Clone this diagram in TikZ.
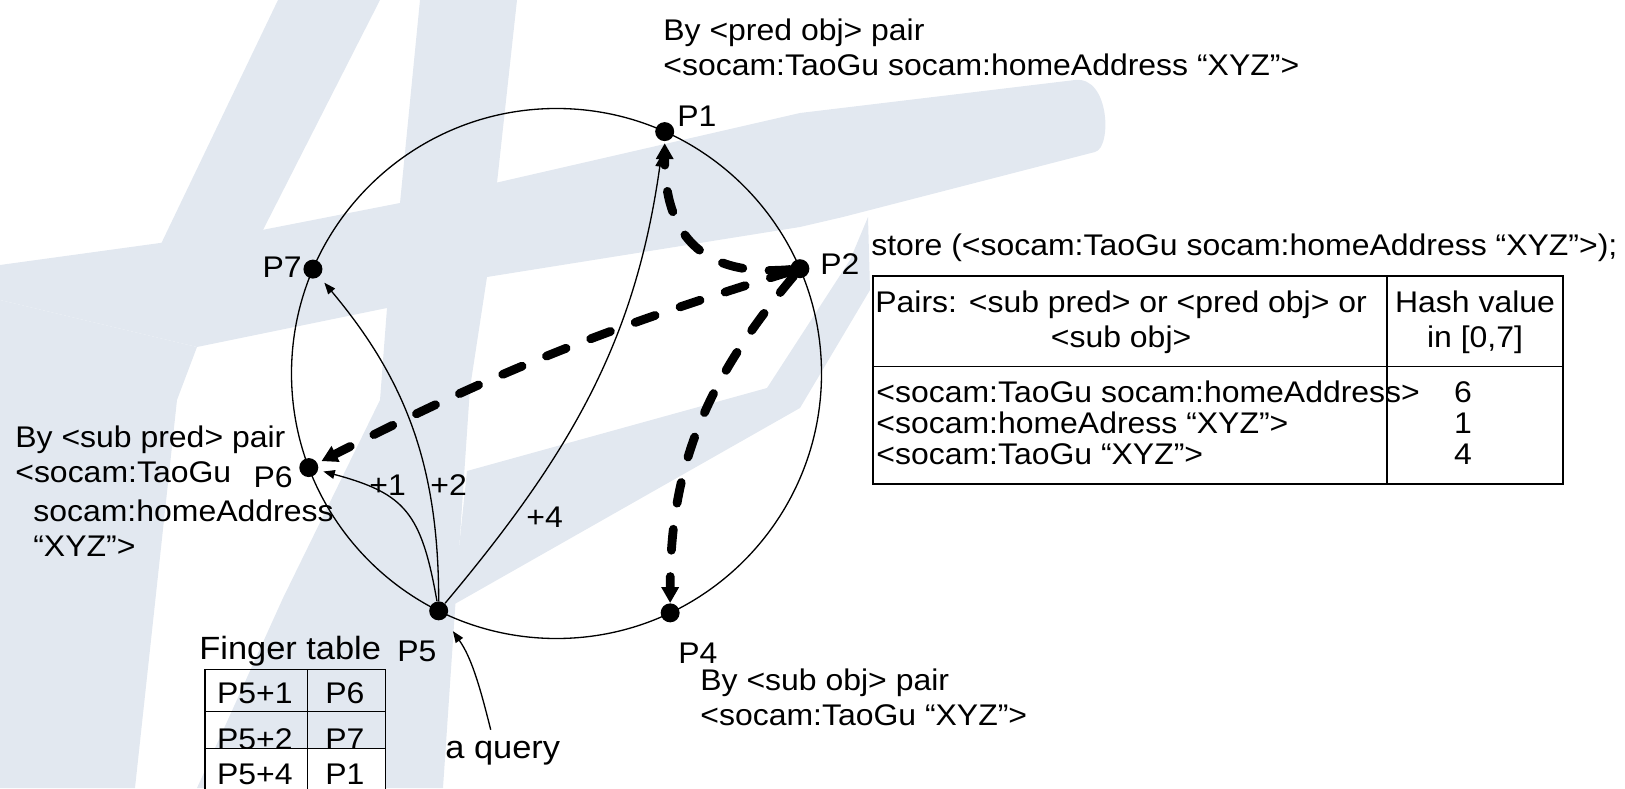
\documentclass[tikz,border=0pt]{standalone}
\usepackage{fontspec}
\setmainfont{Liberation Sans}[FakeStretch=1.07]
\usetikzlibrary{arrows.meta}

\definecolor{wmark}{RGB}{226,232,240}

\tikzset{
  dot/.style={circle, fill=black, inner sep=0pt, minimum size=0.38cm},
  txt/.style={inner sep=0pt, font=\fontsize{17}{19.85}\selectfont},
  bigtxt/.style={inner sep=0pt, font=\fontsize{18.3}{21}\selectfont},
  finger/.style={line width=0.75pt, -{Triangle[length=6.5pt, width=5pt]}},
  hop/.style={line width=5pt, line cap=round, dash pattern=on 12pt off 15pt,
    -{Triangle[length=9pt, width=9.5pt]}},
  rule/.style={line width=0.75pt},
}

\begin{document}
\begin{tikzpicture}[x=0.02cm, y=0.02cm]
  \useasboundingbox (0,0) rectangle (1625,788);

  % background logo
  \fill[wmark] (278,788) -- (380,788) -- (262,556) -- (160,542) -- cycle;
  \fill[wmark] (0,523) -- (160,545) -- (262,558) -- (400,585) -- (495,605) -- (800,675) -- (1075,708)
    .. controls (1110,712) and (1112,640) .. (1095,636) -- (843,571) -- (800,561) -- (487,511)
    -- (387,480) -- (197,441) -- (0,488) -- cycle;
  \fill[wmark] (0,488) -- (197,441) -- (177,388) -- (135,0) -- (0,0) -- cycle;
  \fill[wmark] (420,788) -- (517,788) -- (497,605) -- (487,511) -- (470,400) -- (443,0) -- (197,0)
    -- (283,190) -- (380,388) -- (387,480) -- (400,585) -- cycle;
  \fill[wmark] (453,183) -- (467,317) -- (767,400) -- (850,528) -- (868,571) -- (870,498) -- (800,380) -- cycle;

  % the ring
  \coordinate (c) at (556.5,414.5);
  \draw[rule] (c) circle (265);
  \foreach \n/\a in {1/65.9, 2/23.3, 4/295.4, 5/243.6, 6/200.8, 7/156.8}
    \node[dot] (p\n) at ([shift={(\a:265)}]c) {};

  \node[txt, anchor=base west] (l1) at (677,661) {P1};
  \node[txt, anchor=base west] (l2) at (820,513) {P2};
  \node[txt, anchor=base west] (l4) at (678,125) {P4};
  \node[txt, anchor=base west] (l5) at (397,127) {P5};
  \node[txt, anchor=base east] (l6) at (293,300) {P6};
  \node[txt, anchor=base east] (l7) at (302,510) {P7};

  % fingers of P5
  \draw[finger, shorten >=3pt] (p5) to[out=100, in=-15, looseness=1.3] (p6);
  \draw[finger, shorten >=4.5pt] (p5) to[out=90, in=-50] (p7);
  \draw[finger, shorten >=8pt] (p5) to[out=50, in=-98] (p1);
  \node[txt, anchor=base west] (plus1) at (369,293) {+1};
  \node[txt, anchor=base west] (plus2) at (430,293) {+2};
  \node[txt, anchor=base west] (plus4) at (526,260) {+4};

  % storing from P2
  \draw[hop, shorten >=1pt] (p2) to[out=185, in=-90, looseness=1.3] (p1);
  \draw[hop, shorten >=2.5pt] (p2) to[bend right=5] (p6);
  \draw[hop] (p2) to[out=-130, in=90] (p4);

  % the query
  \node[bigtxt, anchor=base west] (query) at (445,30) {a query};
  \coordinate (qtail) at (490.7,58.3);
  \draw[finger, shorten >=8.5pt] (qtail) to[out=104, in=-55] (p5);

  % where the pairs go
  \node[txt, anchor=north west, align=left] (predobj) at (663,769.5)
    {By <pred obj> pair\\<socam:TaoGu socam:homeAddress “XYZ”>};
  \node[txt, anchor=north west, align=left] (subpred) at (15,362.5)
    {By <sub pred> pair\\<socam:TaoGu};
  \node[txt, anchor=north west, align=left] (subpred2) at (33,288.5)
    {socam:homeAddress\\“XYZ”>};
  \node[txt, anchor=north west, align=left] (subobj) at (700,119.5)
    {By <sub obj> pair\\<socam:TaoGu “XYZ”>};

  % hash table
  \node[txt, anchor=base west] (store) at (871,532) {store (<socam:TaoGu socam:homeAddress “XYZ”>);};
  \draw[rule] (873,304) rectangle (1563,512);
  \draw[rule] (873,421.3) -- (1563,421.3);
  \draw[rule] (1387,304) -- (1387,512);
  \node[txt, anchor=north west, align=center] (hpair) at (875,497.8) {Pairs: <sub pred> or <pred obj> or\\<sub obj>};
  \node[txt, anchor=north, align=center] (hval) at (1475,497.8) {Hash value\\in [0,7]};
  \foreach \pr/\hv [count=\i] in {{<socam:TaoGu socam:homeAddress>}/6, {<socam:homeAdress “XYZ”>}/1, {<socam:TaoGu “XYZ”>}/4} {
    \node[txt, anchor=base west] (row\i) at (876,{416.5-31*\i}) {\pr};
    \node[txt, anchor=base] (hv\i) at (1463,{416.5-31*\i}) {\hv};
  }

  % finger table
  \node[bigtxt, anchor=base west] (ftitle) at (199,129) {Finger table};
  \draw[rule] (205,39.3) rectangle (385.7,118.3);
  \draw[rule] (205,76.7) -- (385.7,76.7);
  \draw[rule] (307.7,39.3) -- (307.7,118.3);
  \node[txt, anchor=base west] (f1a) at (216.7,85) {P5+1};
  \node[txt, anchor=base west] (f1b) at (325,85) {P6};
  \node[txt, anchor=base west] (f2a) at (216.7,38.5) {P5+2};
  \node[txt, anchor=base west] (f2b) at (325,38.5) {P7};
  \draw[rule, fill=white] (205,-10) rectangle (385.7,39.3);
  \draw[rule] (307.7,-10) -- (307.7,39.3);
  \node[txt, anchor=base west] (f3a) at (216.7,3.3) {P5+4};
  \node[txt, anchor=base west] (f3b) at (325,3.3) {P1};
\end{tikzpicture}
\end{document}
